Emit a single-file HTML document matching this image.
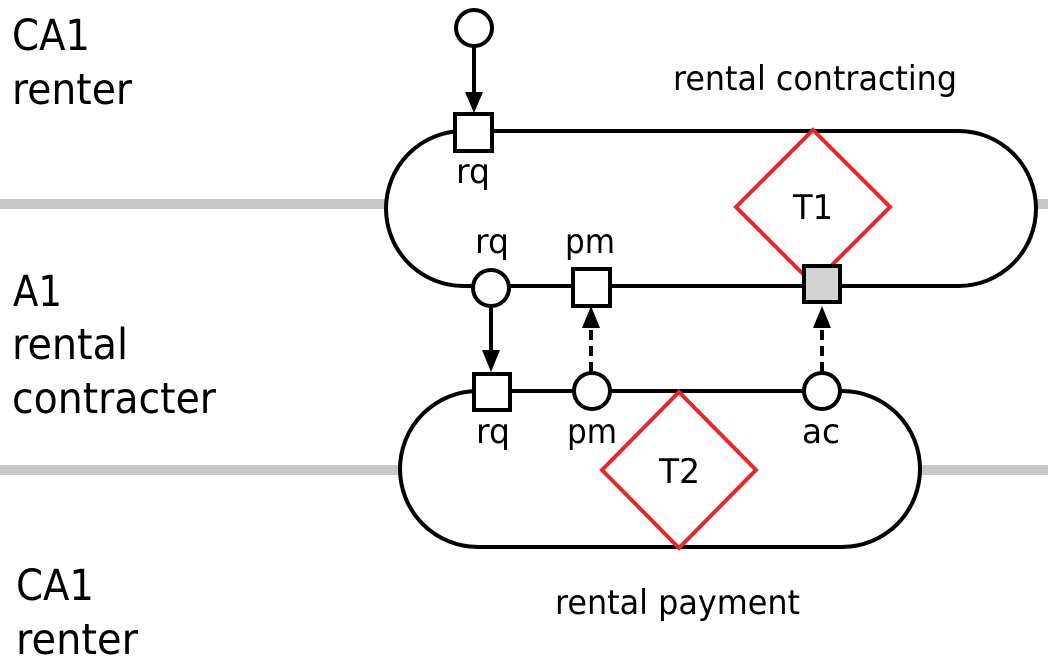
<!DOCTYPE html>
<html><head><style>body{margin:0;background:#fff}svg{display:block}text{font-family:"DejaVu Sans","Liberation Sans",sans-serif;fill:#000}.b{font-size:43px}.s{font-size:34px}</style></head><body>
<svg width="1048" height="668" viewBox="0 0 1048 668">
<line x1="0" y1="204" x2="386" y2="204" stroke="#c8c8c8" stroke-width="10"/>
<line x1="1030" y1="204" x2="1048" y2="204" stroke="#c8c8c8" stroke-width="10"/>
<line x1="0" y1="470" x2="400" y2="470" stroke="#c8c8c8" stroke-width="10"/>
<line x1="918" y1="470" x2="1048" y2="470" stroke="#c8c8c8" stroke-width="10"/>
<rect x="386" y="131" width="650" height="155" rx="77.5" fill="#fff" stroke="#000" stroke-width="4"/>
<rect x="400" y="391" width="520" height="156" rx="78" fill="#fff" stroke="#000" stroke-width="4"/>
<polygon points="813,130 890,207 813,284 736,207" fill="none" stroke="#e8262c" stroke-width="4"/>
<polygon points="679,392 756,470 679,548 602,470" fill="none" stroke="#e8262c" stroke-width="4"/>
<line x1="474" y1="47" x2="474" y2="95" stroke="#000" stroke-width="4"/>
<polygon points="465,92 483,92 474,113" fill="#000"/>
<line x1="491" y1="305" x2="491" y2="352" stroke="#000" stroke-width="4"/>
<polygon points="482,350 500,350 491,372" fill="#000"/>
<line x1="591" y1="372" x2="591" y2="326" stroke="#000" stroke-width="4" stroke-dasharray="10,6"/>
<polygon points="582,328 600,328 591,306" fill="#000"/>
<line x1="822" y1="372" x2="822" y2="326" stroke="#000" stroke-width="4" stroke-dasharray="10,6"/>
<polygon points="813,328 831,328 822,306" fill="#000"/>
<circle cx="474" cy="28" r="18" fill="#fff" stroke="#000" stroke-width="4"/>
<rect x="455" y="114" width="37" height="37" fill="#fff" stroke="#000" stroke-width="4"/>
<circle cx="491" cy="288" r="18" fill="#fff" stroke="#000" stroke-width="4"/>
<rect x="573" y="269" width="37" height="37" fill="#fff" stroke="#000" stroke-width="4"/>
<rect x="804" y="266" width="36" height="36" fill="#d4d4d4" stroke="#000" stroke-width="4"/>
<rect x="474" y="374" width="36" height="36" fill="#fff" stroke="#000" stroke-width="4"/>
<circle cx="592" cy="391" r="18" fill="#fff" stroke="#000" stroke-width="4"/>
<circle cx="822" cy="391" r="18" fill="#fff" stroke="#000" stroke-width="4"/>
<text class="b" x="12" y="50" textLength="78" lengthAdjust="spacingAndGlyphs">CA1</text>
<text class="b" x="12" y="104" textLength="120" lengthAdjust="spacingAndGlyphs">renter</text>
<text class="b" x="13" y="306" textLength="49" lengthAdjust="spacingAndGlyphs">A1</text>
<text class="b" x="12" y="359" textLength="116" lengthAdjust="spacingAndGlyphs">rental</text>
<text class="b" x="12" y="413" textLength="204" lengthAdjust="spacingAndGlyphs">contracter</text>
<text class="b" x="16" y="600" textLength="78" lengthAdjust="spacingAndGlyphs">CA1</text>
<text class="b" x="16" y="654" textLength="122" lengthAdjust="spacingAndGlyphs">renter</text>
<text class="s" x="673" y="90" textLength="284" lengthAdjust="spacingAndGlyphs">rental contracting</text>
<text class="s" x="555" y="614" textLength="245" lengthAdjust="spacingAndGlyphs">rental payment</text>
<text class="s" x="456" y="183" textLength="34" lengthAdjust="spacingAndGlyphs">rq</text>
<text class="s" x="475" y="253" textLength="34" lengthAdjust="spacingAndGlyphs">rq</text>
<text class="s" x="565" y="253" textLength="50" lengthAdjust="spacingAndGlyphs">pm</text>
<text class="s" x="476" y="443" textLength="34" lengthAdjust="spacingAndGlyphs">rq</text>
<text class="s" x="567" y="443" textLength="50" lengthAdjust="spacingAndGlyphs">pm</text>
<text class="s" x="802" y="443" textLength="38" lengthAdjust="spacingAndGlyphs">ac</text>
<text class="s" x="793" y="219" textLength="40" lengthAdjust="spacingAndGlyphs">T1</text>
<text class="s" x="659" y="483" textLength="41" lengthAdjust="spacingAndGlyphs">T2</text>
</svg>
</body></html>
